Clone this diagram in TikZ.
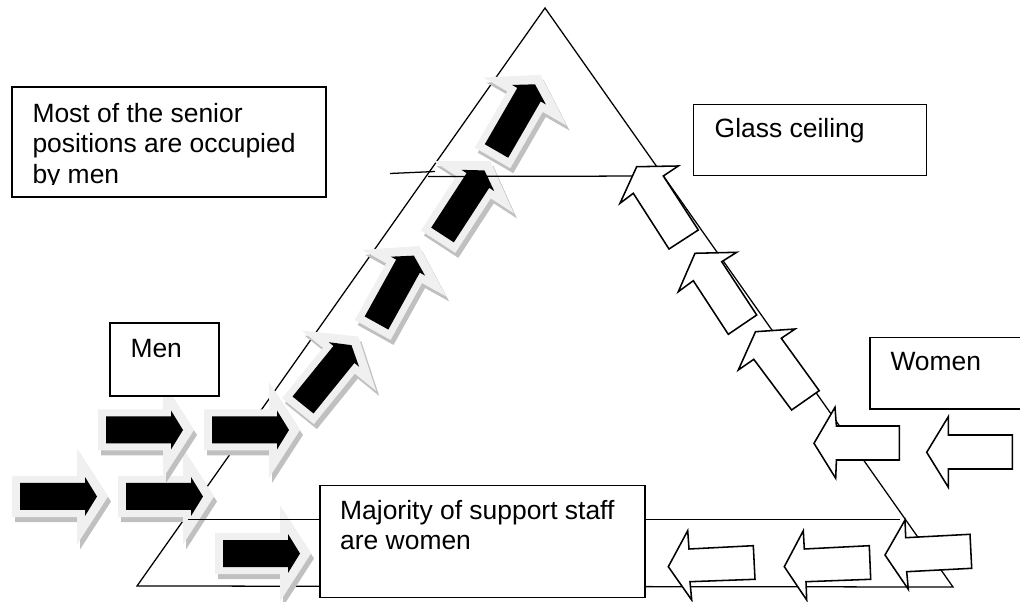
\documentclass[tikz,border=0pt]{standalone}
\usepackage{fontspec}
\setmainfont{Liberation Sans}
\usepackage{xcolor}
\usepackage{tikz}
\usetikzlibrary{positioning,fit}
\definecolor{halogray}{RGB}{240,240,240}
\definecolor{shadowgray}{RGB}{192,192,192}
\tikzset{
    edge line/.style={draw=black, line width=0.9pt},
    label box/.style={rectangle, draw=black, line width=1.1pt, fill=white, inner sep=0pt},
    box text/.style={inner sep=0pt, align=left, font=\fontsize{18.8}{21.6}\selectfont},
    women arrow/.style={draw=black, line width=1.1pt, fill=white},
    men arrow/.pic={
        \fill[shadowgray, shift={(3,5)}, rotate=#1] (-8,-20.5) -- (57,-20.5) -- (57,-48) -- (88,0) -- (57,48) -- (57,20.5) -- (-8,20.5) -- cycle;
        \fill[halogray, rotate=#1] (-8,-20.5) -- (57,-20.5) -- (57,-48) -- (88,0) -- (57,48) -- (57,20.5) -- (-8,20.5) -- cycle;
        \fill[black, rotate=#1] (0,-13.5) -- (65,-13.5) -- (65,-19.5) -- (77,0) -- (65,19.5) -- (65,13.5) -- (0,13.5) -- cycle;
    }
}

\begin{document}
\begin{tikzpicture}[x=0.025cm, y=-0.025cm]
    % Page frame
    \useasboundingbox (0,0) rectangle (1020,602);
    \clip (0,0) rectangle (1020,602);

    % Pyramid
    \coordinate (apex) at (545,8);
    \coordinate (base left) at (137,586);
    \coordinate (base right) at (953,587);
    \draw[edge line] (apex) -- (base left) -- (base right) -- cycle;

    % Men entering and climbing (black arrows)
    \pic at (20,496.5) {men arrow=0};
    \pic at (126,496.5) {men arrow=0};
    \pic at (106,430) {men arrow=0};
    \pic at (212,430) {men arrow=0};
    \pic at (223,553.5) {men arrow=0};
    \pic at (303,405) {men arrow=51};
    \pic at (376.5,323) {men arrow=61};
    \pic at (442.5,235) {men arrow=57};
    \pic at (496.5,151) {men arrow=60};

    % Glass ceiling and support staff levels
    \draw[edge line] (390,173.5) -- (435,171.5);
    \draw[edge line] (428,176.5) -- (663.5,176);
    \draw[edge line] (188,519.5) -- (900,519.5);

    % Text boxes
    \node[label box, fit={(12,87) (326,197)}] (senior) {};
    \begin{scope}
        \clip (12,87) rectangle (326,184.5);
        \node[box text, anchor=north west] (senior text) at ([shift={(21,16.6)}]senior.north west) {Most of the senior\\positions are occupied\\by men};
    \end{scope}
    \node[label box, fit={(693.5,104.3) (926.6,175.7)}] (glass) {};
    \node[box text, anchor=base west] (glass text) at ([shift={(21.7,34.2)}]glass.north west) {Glass ceiling};
    \node[label box, fit={(110,323) (219,396)}] (men) {};
    \node[box text, anchor=base west] (men text) at ([shift={(21,35.3)}]men.north west) {Men};
    \node[label box, fit={(870,337.3) (1030,409)}] (women) {};
    \node[box text, anchor=base west] (women text) at ([shift={(21,34.4)}]women.north west) {Women};
    \node[label box, fit={(320,485.7) (645,597.7)}] (support) {};
    \node[box text, anchor=north west] (support text) at ([shift={(20.7,15.2)}]support.north west) {Majority of support staff\\are women};

    % Women held back (white arrows)
    \draw[women arrow] (620,203.3) -- (636.7,166.7) -- (678.3,166) -- (663.3,176) -- (698.3,230) -- (669,249) -- (633.3,193.3) -- cycle;
    \draw[women arrow] (678.3,291.7) -- (695,253.3) -- (736.7,252.3) -- (721.7,261.7) -- (756.7,315) -- (728.3,334.3) -- (693.3,280.7) -- cycle;
    \draw[women arrow] (738.3,370) -- (755.5,331.7) -- (795.1,329) -- (781.3,338.3) -- (819.2,390.7) -- (791.6,410) -- (753.8,359.3) -- cycle;
    \draw[women arrow] (814,443.3) -- (835,407.3) -- (836.4,426) -- (899.4,426) -- (899.4,460) -- (836.4,460) -- (835.7,478.3) -- cycle;
    \draw[women arrow] (926.7,452.3) -- (948.3,416.7) -- (948.3,435) -- (1012.3,435) -- (1012.3,469) -- (948.3,469) -- (948.3,487.3) -- cycle;
    \draw[women arrow] (668.3,566.7) -- (687.7,530.7) -- (689,549) -- (753.3,545.7) -- (755,579.3) -- (690,581.7) -- (691.7,600) -- cycle;
    \draw[women arrow] (784.3,566.7) -- (803.3,530.7) -- (804.3,549) -- (869.3,545.7) -- (870.7,579.3) -- (806,581.7) -- (806.7,600) -- cycle;
    \draw[women arrow] (885,555) -- (905,520) -- (905.7,537.7) -- (970,534.3) -- (971.7,568.3) -- (906.7,571.7) -- (908.3,589.3) -- cycle;
\end{tikzpicture}
\end{document}
